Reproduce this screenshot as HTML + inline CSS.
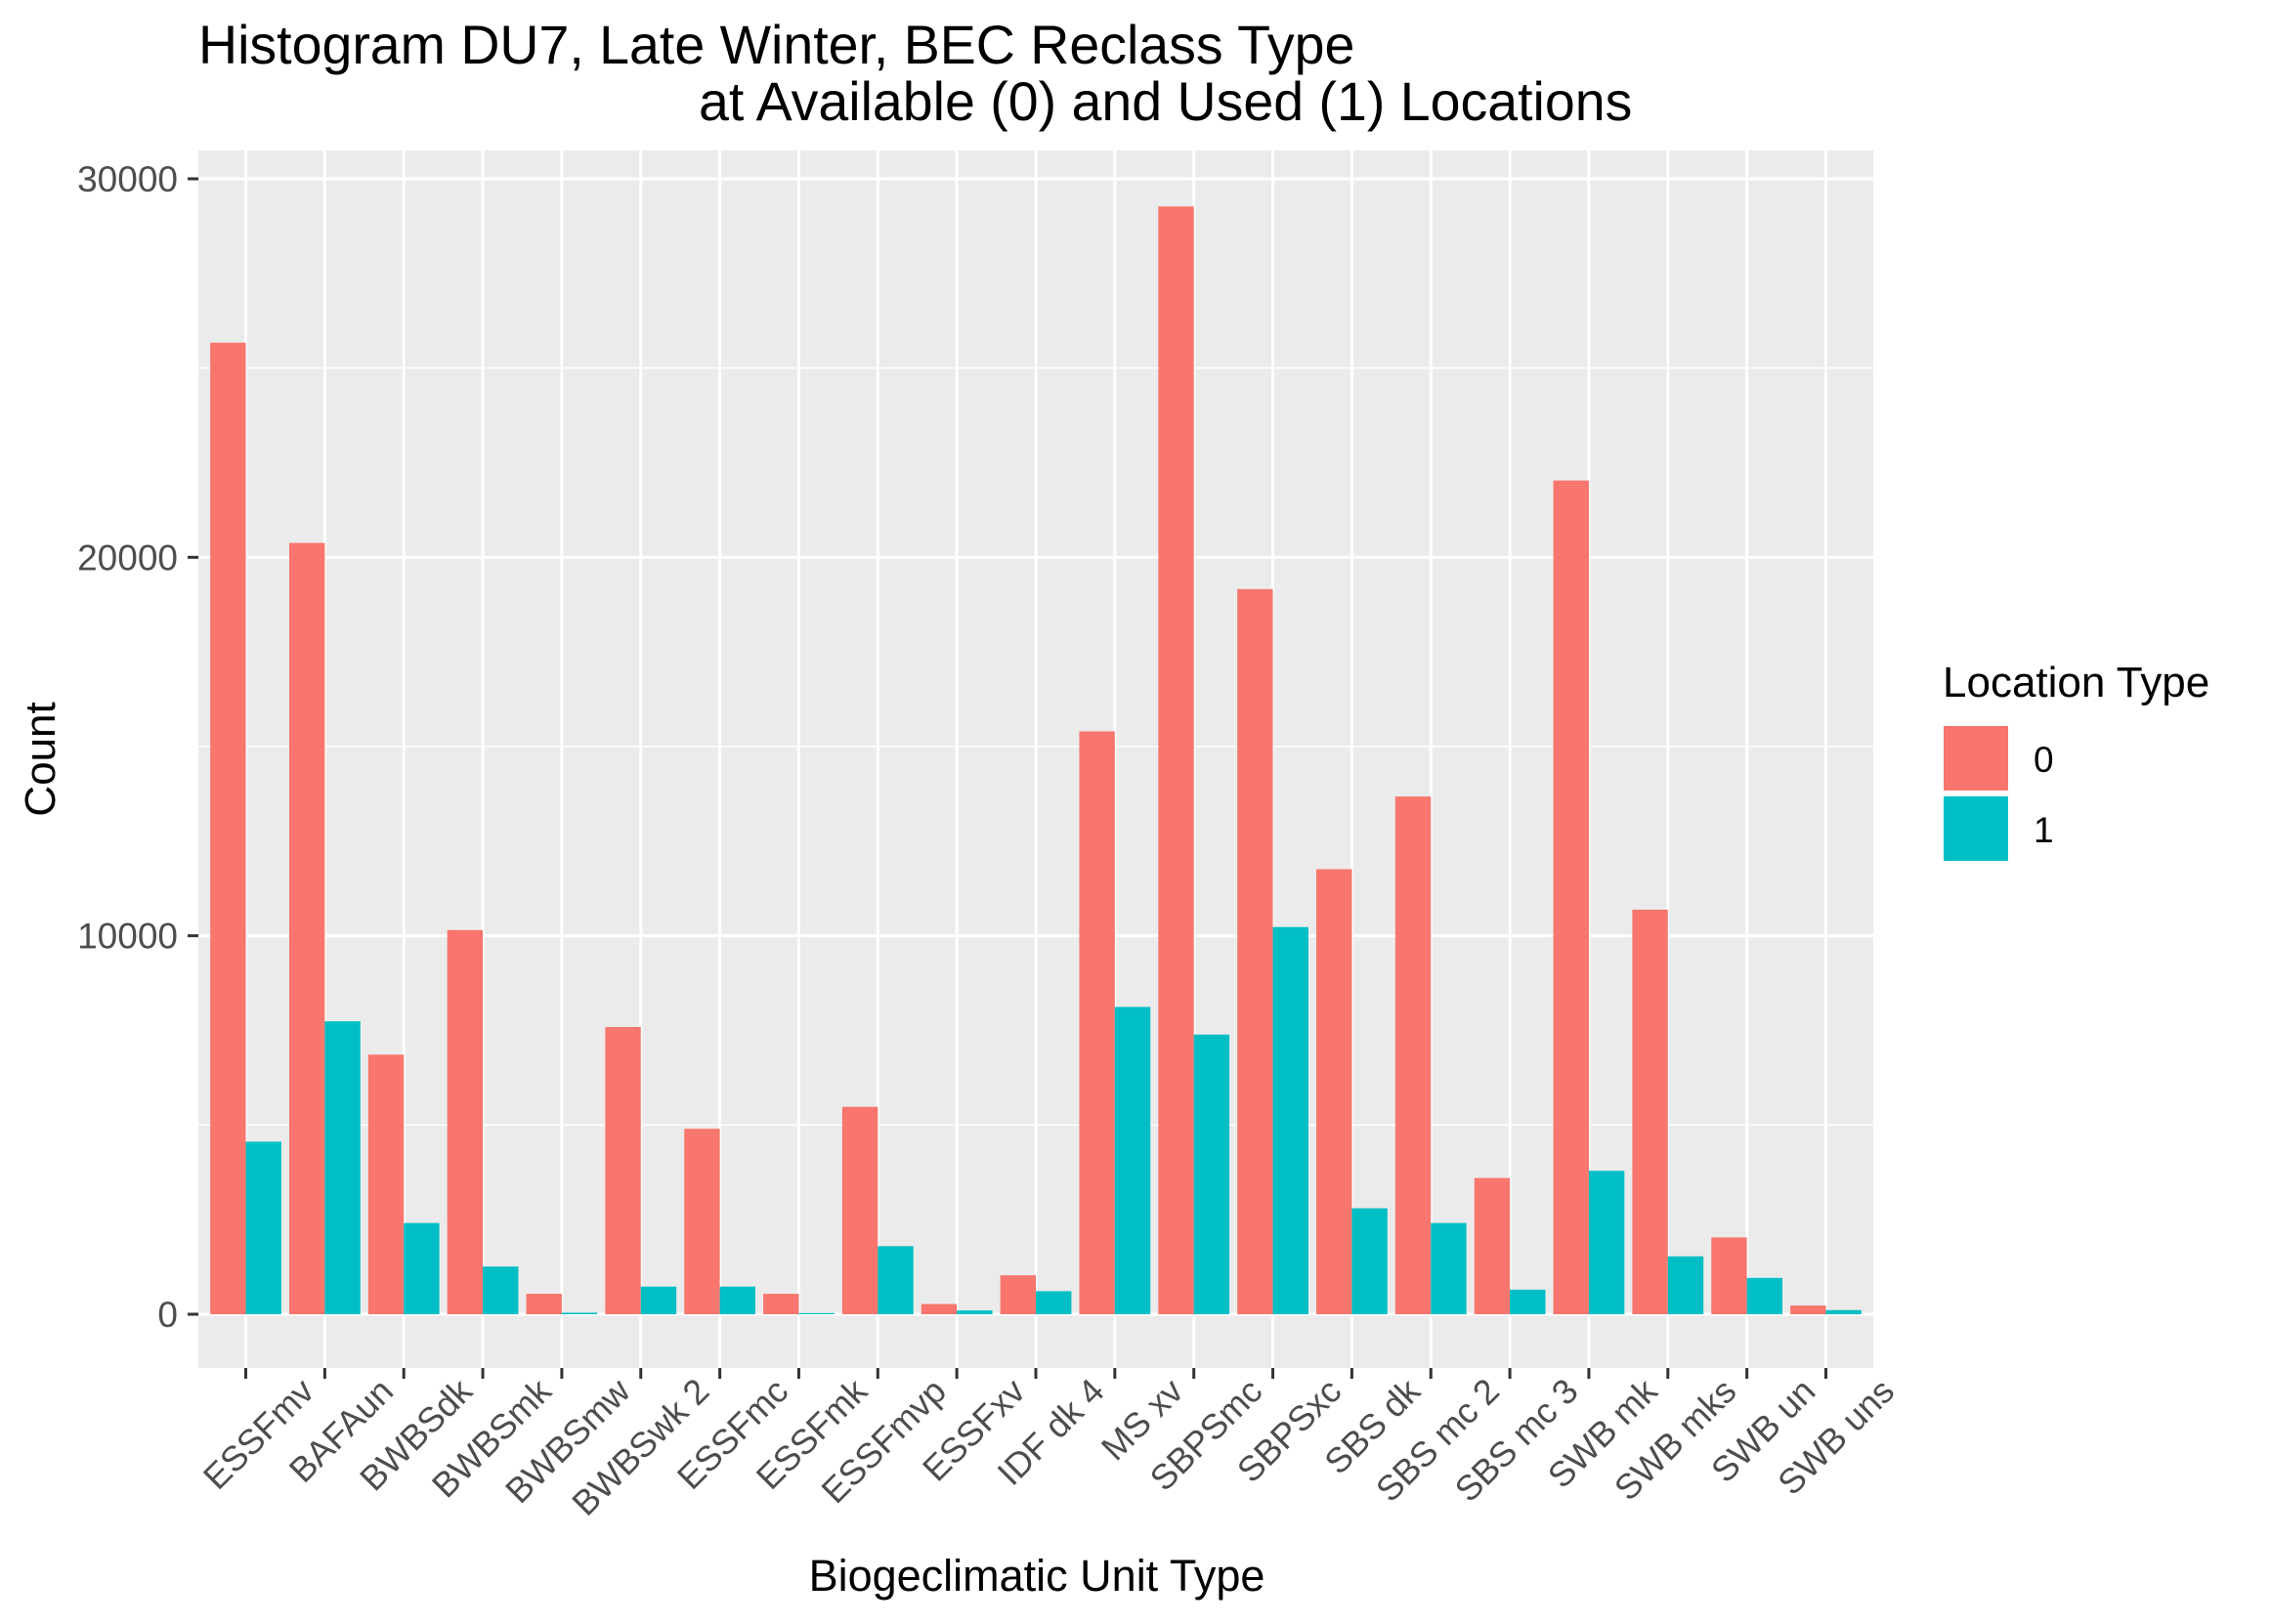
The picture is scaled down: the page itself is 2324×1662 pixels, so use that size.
<!DOCTYPE html>
<html><head><meta charset="utf-8">
<style>
html,body{margin:0;padding:0;background:#fff;}
svg{display:block;font-family:"Liberation Sans",Arial,sans-serif;}
</style></head>
<body>
<svg id="chart" width="2324" height="1662" viewBox="0 0 2324 1662" xmlns="http://www.w3.org/2000/svg">
<rect x="0" y="0" width="2324" height="1662" fill="#fff"/>
<text x="203" y="65" font-size="55.5" fill="#000">Histogram DU7, Late Winter, BEC Reclass Type</text>
<text x="715" y="123" font-size="55.5" fill="#000">at Available (0) and Used (1) Locations</text>
<rect x="203" y="154" width="1714" height="1246" fill="#ebebeb"/>
<g id="grid"></g>
<g id="bars"></g>
<g id="axes"></g>
<text transform="translate(56,777) rotate(-90)" text-anchor="middle" font-size="44" fill="#000">Count</text>
<text x="1061" y="1628" text-anchor="middle" font-size="45" fill="#000">Biogeclimatic Unit Type</text>
<g>
<text x="1988" y="713" font-size="44" fill="#000">Location Type</text>
<rect x="1989" y="743" width="66" height="66" fill="#f8766d"/>
<rect x="1989" y="815" width="66" height="66" fill="#00bfc4"/>
<text x="2081" y="790" font-size="37" fill="#000">0</text>
<text x="2081" y="862" font-size="37" fill="#000">1</text>
</g>
</svg>
<script>
const categories = ["ESSFmv","BAFAun","BWBSdk","BWBSmk","BWBSmw","BWBSwk 2","ESSFmc","ESSFmk","ESSFmvp","ESSFxv","IDF dk 4","MS  xv","SBPSmc","SBPSxc","SBS dk","SBS mc 2","SBS mc 3","SWB mk","SWB mks","SWB un","SWB uns"];
const available = [25670,20380,6860,10150,540,7590,4900,540,5480,270,1030,15400,29270,19160,11760,13680,3600,22030,10690,2030,230];
const used = [4560,7740,2410,1260,40,730,730,30,1800,100,610,8120,7390,10230,2800,2410,650,3790,1530,960,110];
const yTicks = [0,10000,20000,30000];
const yMinor = [5000,15000,25000];

const NS = "http://www.w3.org/2000/svg";
const panel = {l:203, r:1917, t:154, b:1400};
const y0 = 1345, y30 = 183;
function yScale(v){ return y0 - (v/30000)*(y0-y30); }
const n = categories.length;
const unit = (panel.r-panel.l)/(n-1+1.2);
function xScale(i){ return panel.l + (0.6+i)*unit; }
function mk(tag, attrs, parent){ const e=document.createElementNS(NS,tag); for(const k in attrs) e.setAttribute(k,attrs[k]); parent.appendChild(e); return e; }

const grid = document.getElementById('grid');
const bars = document.getElementById('bars');
const axes = document.getElementById('axes');

yMinor.forEach(v=>{
  const ln = mk('line',{x1:panel.l,x2:panel.r,y1:yScale(v),y2:yScale(v),stroke:'#fff','stroke-width':1.5},grid);
  
  
});
yTicks.forEach(v=>{
  const y=yScale(v);
  const ln = mk('line',{x1:panel.l,x2:panel.r,y1:y,y2:y,stroke:'#fff','stroke-width':3},grid);
  
  
  const tk = mk('line',{x1:panel.l-11,x2:panel.l,y1:y,y2:y,stroke:'#333','stroke-width':3},axes);
  
  
  const t = mk('text',{x:panel.l-21,y:y+13,'text-anchor':'end','font-size':37,fill:'#4d4d4d'},axes);
  
  
  t.textContent = String(v);
});
const bw = unit*0.45;
categories.forEach((c,i)=>{
  const x = xScale(i);
  const gl = mk('line',{x1:x,x2:x,y1:panel.t,y2:panel.b,stroke:'#fff','stroke-width':3},grid);
  
  
  const r0 = mk('rect',{x:x-bw,y:yScale(available[i]),width:bw,height:y0-yScale(available[i]),fill:'#f8766d'},bars);
  
  
  const r1 = mk('rect',{x:x,y:yScale(used[i]),width:bw,height:y0-yScale(used[i]),fill:'#00bfc4'},bars);
  
  
  const tk = mk('line',{x1:x,x2:x,y1:panel.b,y2:panel.b+11,stroke:'#333','stroke-width':3},axes);
  
  
  const t = mk('text',{transform:`translate(${x+72},${panel.b+26}) rotate(-45)`,'text-anchor':'end','font-size':36,fill:'#4d4d4d','xml:space':'preserve'},axes);
  
  
  t.textContent = c;
});
</script>
</body></html>
